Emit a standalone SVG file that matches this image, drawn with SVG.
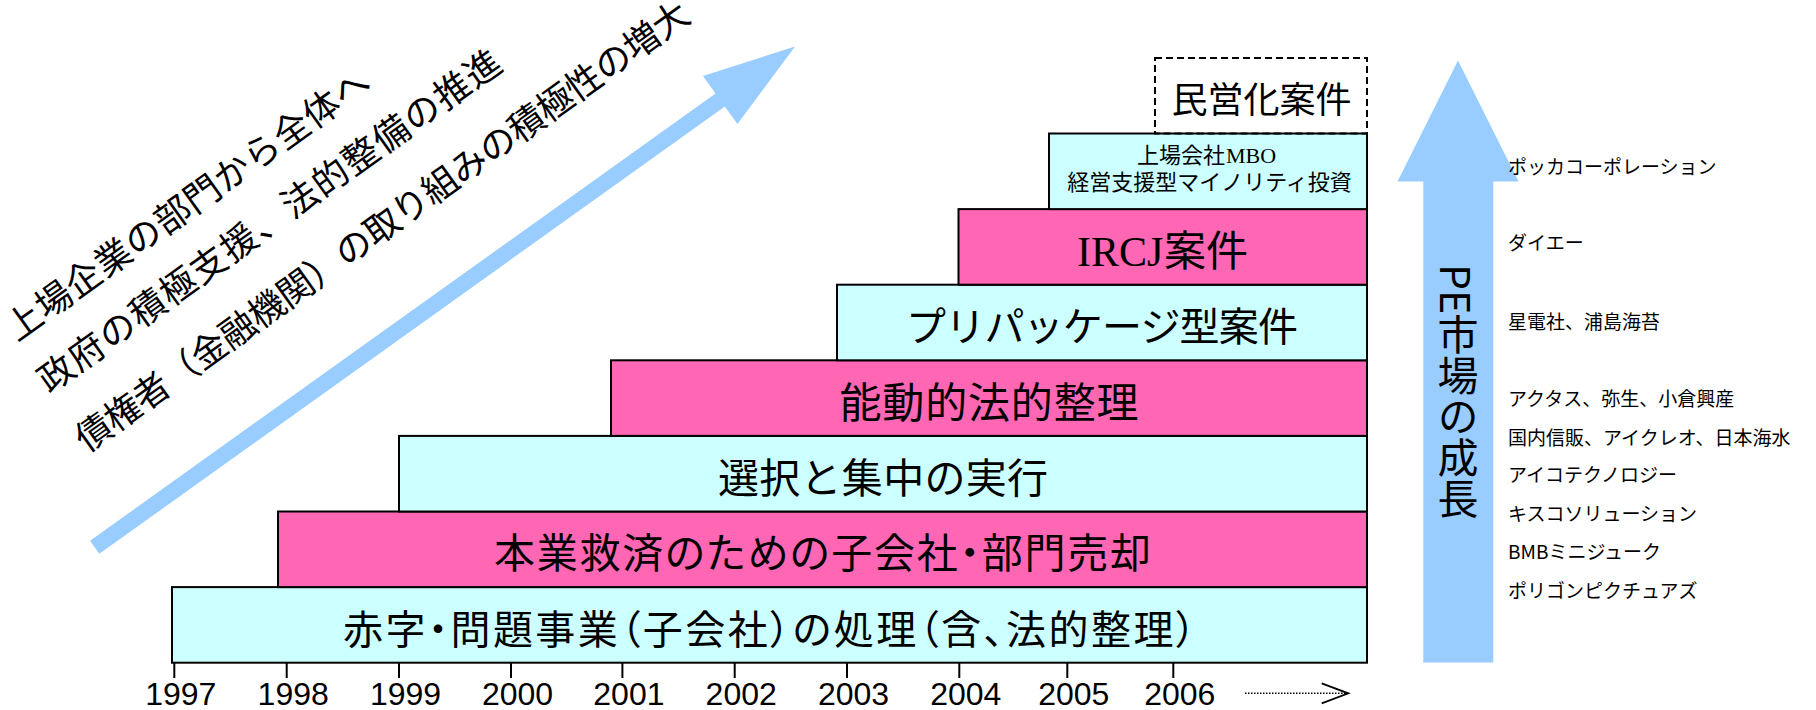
<svg xmlns="http://www.w3.org/2000/svg" width="1816" height="710" viewBox="0 0 1816 710">
<style>
.jp{font-family:'Noto Sans CJK JP',sans-serif;fill:#000}
.serif{font-family:'Liberation Serif','Noto Serif CJK JP',serif;fill:#000}
.bar{stroke:#000;stroke-width:2}
.cy{fill:#CCFFFF}
.pk{fill:#FF66B3}
.yr{font-family:'Liberation Sans',Arial,sans-serif;font-size:32px;fill:#000;text-anchor:middle}
.tick{stroke:#000;stroke-width:2}
.c{text-anchor:middle}
.lst{font-size:19px}
.palt{font-feature-settings:"palt"}
</style>
<rect width="1816" height="710" fill="#fff"/>
<g id="connectors">
  <g id="trend-arrow" transform="translate(94.7,547.3) rotate(-35.57)">
    <polygon points="0,-8 769,-8 769,-29.6 861,0 769,29.6 769,8 0,8" fill="#99CCFF"/>
  </g>
  <polygon id="pe-arrow" points="1458,60.5 1518.5,181.6 1493.3,181.6 1493.3,662.5 1423.3,662.5 1423.3,181.6 1397.5,181.6" fill="#99CCFF"/>
  <g id="axis">
    <line class="tick" x1="174.3" y1="663" x2="174.3" y2="678"/>
    <line class="tick" x1="286.7" y1="663" x2="286.7" y2="678"/>
    <line class="tick" x1="399" y1="663" x2="399" y2="678"/>
    <line class="tick" x1="511" y1="663" x2="511" y2="678"/>
    <line class="tick" x1="622.4" y1="663" x2="622.4" y2="678"/>
    <line class="tick" x1="734.7" y1="663" x2="734.7" y2="678"/>
    <line class="tick" x1="847" y1="663" x2="847" y2="678"/>
    <line class="tick" x1="959.3" y1="663" x2="959.3" y2="678"/>
    <line class="tick" x1="1067.3" y1="663" x2="1067.3" y2="678"/>
    <line class="tick" x1="1173.3" y1="663" x2="1173.3" y2="678"/>
    <line x1="1245" y1="693.3" x2="1346" y2="693.3" stroke="#000" stroke-width="1.5" stroke-dasharray="1.5 1.5"/>
    <polyline points="1321.7,683.3 1348.3,693.3 1321.7,703.3" fill="none" stroke="#000" stroke-width="1.8"/>
  </g>
</g>
<g id="trend-labels" class="jp" font-size="36" transform="translate(94.7,547.3) rotate(-35.57)">
  <text x="56" y="-212" textLength="438" lengthAdjust="spacing">上場企業の部門から全体へ</text>
  <text x="52" y="-151" textLength="560" lengthAdjust="spacing">政府の積極支援、法的整備の推進</text>
  <text x="48" y="-81" textLength="745" lengthAdjust="spacing">債権者（金融機関）の取り組みの積極性の増大</text>
</g>
<g id="bar-1997">
  <rect class="bar cy" x="172" y="587.1" width="1195" height="75.6"/>
  <text class="jp c palt" x="769.5" y="643.5" font-size="40" textLength="853" lengthAdjust="spacing">赤字・問題事業（子会社）の処理（含、法的整理）</text>
</g>
<g id="bar-1998">
  <rect class="bar pk" x="278" y="511.5" width="1089" height="75.6"/>
  <text class="jp c palt" x="822.5" y="568" font-size="41" textLength="657" lengthAdjust="spacing">本業救済のための子会社・部門売却</text>
</g>
<g id="bar-1999">
  <rect class="bar cy" x="399" y="435.9" width="968" height="75.6"/>
  <text class="jp c" x="883" y="492.8" font-size="41" textLength="330" lengthAdjust="spacing">選択と集中の実行</text>
</g>
<g id="bar-2001">
  <rect class="bar pk" x="611" y="360.3" width="756" height="75.6"/>
  <text class="jp c" x="989" y="417.6" font-size="42" textLength="299" lengthAdjust="spacing">能動的法的整理</text>
</g>
<g id="bar-2003">
  <rect class="bar cy" x="837" y="284.7" width="530" height="75.6"/>
  <text class="jp c" x="1102" y="341.2" font-size="40" textLength="392" lengthAdjust="spacing">プリパッケージ型案件</text>
</g>
<g id="bar-2004">
  <rect class="bar pk" x="958.5" y="209.1" width="408.5" height="75.6"/>
  <text class="serif" x="1077" y="266.4" font-size="42">IRCJ</text>
  <text class="jp" x="1164" y="266.4" font-size="42">案件</text>
</g>
<g id="bar-2005">
  <rect class="bar cy" x="1049" y="133.5" width="318" height="75.6"/>
  <text class="jp" x="1137" y="163.4" font-size="22">上場会社</text>
  <text class="serif" x="1226" y="163.4" font-size="22">MBO</text>
  <text class="jp c" x="1209.5" y="189.7" font-size="22">経営支援型マイノリティ投資</text>
</g>
<g id="box-2006">
  <rect x="1155" y="57.9" width="212" height="75.6" fill="none" stroke="#000" stroke-width="2" stroke-dasharray="7 4"/>
  <text class="jp c" x="1261.5" y="112.9" font-size="36">民営化案件</text>
</g>
<g id="pe-label">
  <text class="jp" x="1458" y="264" font-size="41" style="writing-mode:vertical-rl">PE市場の成長</text>
</g>
<g id="deal-list" class="jp lst">
  <text x="1508" y="173.7">ポッカコーポレーション</text>
  <text x="1508" y="249.5">ダイエー</text>
  <text x="1508" y="328.5">星電社、浦島海苔</text>
  <text x="1508" y="406">アクタス、弥生、小倉興産</text>
  <text x="1508" y="444.5">国内信販、アイクレオ、日本海水</text>
  <text x="1508" y="482">アイコテクノロジー</text>
  <text x="1508" y="520.5">キスコソリューション</text>
  <text x="1508" y="559">BMBミニジューク</text>
  <text x="1508" y="598">ポリゴンピクチュアズ</text>
</g>
<g id="years">
  <text class="yr" x="180.8" y="705">1997</text>
  <text class="yr" x="293.2" y="705">1998</text>
  <text class="yr" x="405.5" y="705">1999</text>
  <text class="yr" x="517.5" y="705">2000</text>
  <text class="yr" x="628.9" y="705">2001</text>
  <text class="yr" x="741.2" y="705">2002</text>
  <text class="yr" x="853.5" y="705">2003</text>
  <text class="yr" x="965.8" y="705">2004</text>
  <text class="yr" x="1073.8" y="705">2005</text>
  <text class="yr" x="1179.8" y="705">2006</text>
</g>
</svg>
